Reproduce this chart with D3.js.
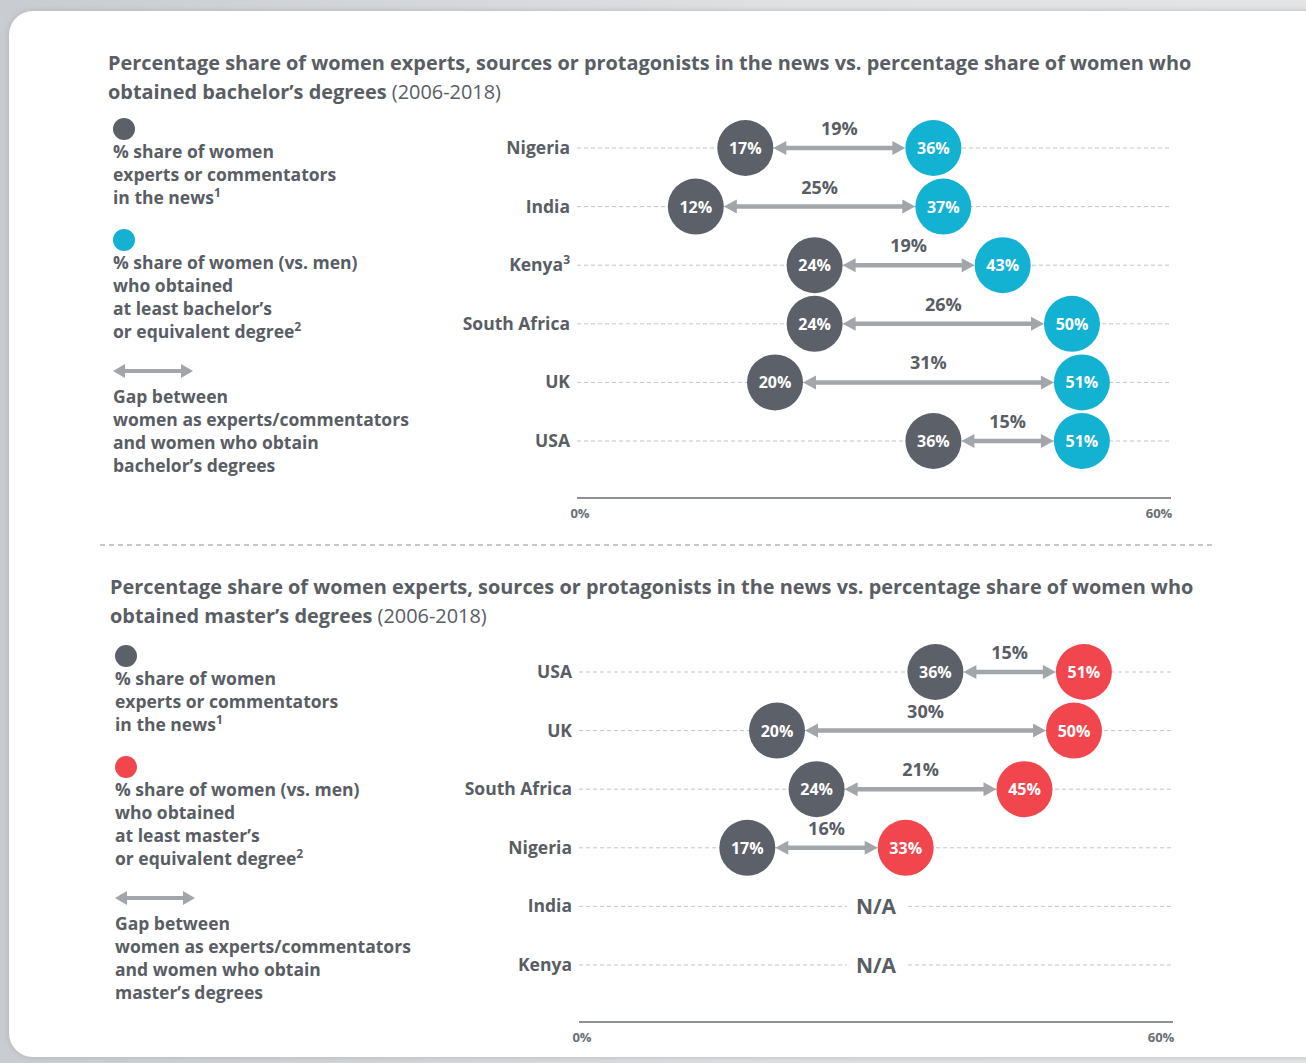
<!DOCTYPE html>
<html>
<head>
<meta charset="utf-8">
<script src="https://cdn.jsdelivr.net/npm/d3@7"></script>
<style>
  html, body { margin: 0; padding: 0; background: #dcdee0; }
  svg { display: block; }
  text { font-family: "Open Sans", "Noto Sans", sans-serif; }
</style>
</head>
<body>
<div id="chart"></div>
<script>
/* data */
var bachelorCountries = ["Nigeria", "India", "Kenya", "South Africa", "UK", "USA"];
var bachelorExperts   = [17, 12, 24, 24, 20, 36];
var bachelorDegree    = [36, 37, 43, 50, 51, 51];
var bachelorGap       = [19, 25, 19, 26, 31, 15];

var masterCountries = ["USA", "UK", "South Africa", "Nigeria", "India", "Kenya"];
var masterExperts   = [36, 20, 24, 17, null, null];
var masterDegree    = [51, 50, 45, 33, null, null];
var masterGap       = [15, 30, 21, 16, null, null];

var axisTicks = [0, 60];

var W = 1306, H = 1063;
var dark = "#5c6069", teal = "#13b2d3", red = "#f2464f";
var textGray = "#595d64", arrowGray = "#a2a5aa", dashGray = "#c3c5c8";
var r = 28;

var svg = d3.select("#chart").append("svg")
    .attr("width", W).attr("height", H);

/* page background and white card */
var defs = svg.append("defs");
var bg = defs.append("linearGradient").attr("id", "bg")
    .attr("x1", 0).attr("y1", 0).attr("x2", 1).attr("y2", 0);
bg.append("stop").attr("offset", "0%").attr("stop-color", "#c9ccd0");
bg.append("stop").attr("offset", "60%").attr("stop-color", "#dfe1e3");
bg.append("stop").attr("offset", "100%").attr("stop-color", "#e4e5e7");
var sh = defs.append("filter").attr("id", "shadow")
    .attr("x", -0.05).attr("y", -0.05).attr("width", 1.1).attr("height", 1.1);
sh.append("feDropShadow").attr("dx", 0).attr("dy", 0)
    .attr("stdDeviation", 3).attr("flood-color", "#9a9ea3").attr("flood-opacity", 0.6);

svg.append("rect").attr("width", W).attr("height", H).attr("fill", "url(#bg)");
svg.append("rect")
    .attr("x", 9).attr("y", 11).attr("width", W + 20).attr("height", 1046)
    .attr("rx", 24).attr("fill", "#fff").attr("filter", "url(#shadow)");

/* shrink a text until it fits a width */
function fitFont(sel, size, width) {
    sel.attr("font-size", size);
    var len = sel.node().getComputedTextLength();
    if (len > width) {
        size = size * width / len;
        sel.attr("font-size", size);
    }
    return size;
}

function drawArrow(g, x1, x2, y, head, hw, sw) {
    g.append("line")
        .attr("x1", x1 + head - 1).attr("x2", x2 - head + 1)
        .attr("y1", y).attr("y2", y)
        .attr("stroke", arrowGray).attr("stroke-width", sw);
    g.append("path")
        .attr("d", "M" + x1 + "," + y + "L" + (x1 + head) + "," + (y - hw) + "L" + (x1 + head) + "," + (y + hw) + "Z")
        .attr("fill", arrowGray);
    g.append("path")
        .attr("d", "M" + x2 + "," + y + "L" + (x2 - head) + "," + (y - hw) + "L" + (x2 - head) + "," + (y + hw) + "Z")
        .attr("fill", arrowGray);
}

function addLines(g, lines, x, y0, step) {
    lines.forEach(function(l, i) {
        var t = g.append("text")
            .attr("x", x).attr("y", y0 + i * step)
            .attr("font-size", 17.5).attr("font-weight", 700)
            .attr("fill", textGray);
        t.append("tspan").text(l[0]);
        if (l[1]) {
            t.append("tspan").attr("font-size", 12).attr("dy", -7).text(l[1]);
        }
    });
}

function drawPanel(opt) {
    var g = svg.append("g").attr("transform", "translate(" + opt.dx + "," + opt.dy + ")");

    /* title */
    var t1 = g.append("text").attr("x", 108).attr("y", 70)
        .attr("font-weight", 700).attr("fill", textGray)
        .text("Percentage share of women experts, sources or protagonists in the news vs. percentage share of women who");
    var fs = fitFont(t1, 21, 1084);
    var t2 = g.append("text").attr("x", 108).attr("y", 99)
        .attr("font-size", fs).attr("fill", textGray);
    t2.append("tspan").attr("font-weight", 700).text(opt.titleBold);
    t2.append("tspan").attr("font-weight", 400).text(" (2006-2018)");

    /* legend */
    var lg = g.append("g").attr("transform", "translate(0," + opt.legendDy + ")");
    lg.append("circle").attr("cx", 124).attr("cy", 129).attr("r", 11).attr("fill", dark);
    addLines(lg, [["% share of women"], ["experts or commentators"], ["in the news", "1"]], 113, 158, 23);
    lg.append("circle").attr("cx", 124).attr("cy", 240).attr("r", 11).attr("fill", opt.color);
    addLines(lg, [["% share of women (vs. men)"], ["who obtained"], ["at least " + opt.degree], ["or equivalent degree", "2"]], 113, 269, 23);
    drawArrow(lg, 113, 193, 371, 12, 7, 4);
    addLines(lg, [["Gap between"], ["women as experts/commentators"], ["and women who obtain"], [opt.degree + " degrees"]], 113, 403, 23);

    /* scales */
    var x = d3.scaleLinear().domain([0, 60]).range([577, 1171]);
    var y = d3.scalePoint().domain(opt.countries).range([148, 441]);

    /* country rows */
    var rows = g.selectAll(".row").data(opt.countries).enter().append("g").attr("class", "row");
    rows.append("line")
        .attr("x1", x(0)).attr("x2", x(60) - 1)
        .attr("y1", function(d) { return y(d); }).attr("y2", function(d) { return y(d); })
        .attr("stroke", dashGray).attr("stroke-width", 1).attr("stroke-dasharray", "4,3");
    var lab = rows.append("text")
        .attr("x", x(0) - 7).attr("y", function(d) { return y(d) + 6; })
        .attr("text-anchor", "end").attr("font-size", 17.5).attr("font-weight", 700)
        .attr("fill", textGray);
    lab.append("tspan").text(function(d) { return d; });
    lab.filter(function(d) { return d === "Kenya" && opt.kenyaNote; })
        .append("tspan").attr("font-size", 12).attr("dy", -7).text("3");

    opt.countries.forEach(function(c, i) {
        var cy = y(c);
        var a = opt.experts[i], b = opt.degreeVals[i];
        if (a === null) {
            var na = g.append("text").attr("x", x(30)).attr("y", cy + 8)
                .attr("text-anchor", "middle").attr("font-size", 21).attr("font-weight", 700)
                .attr("fill", textGray).text("N/A");
            var bb = na.node().getBBox();
            g.append("rect")
                .attr("x", bb.x - 9).attr("y", cy - 3).attr("width", bb.width + 18).attr("height", 6)
                .attr("fill", "#fff");
            na.raise();
            return;
        }
        drawArrow(g, x(a) + r, x(b) - r, cy, 13, 7, 4.5);
        g.append("text").attr("x", (x(a) + x(b)) / 2).attr("y", cy - 13)
            .attr("text-anchor", "middle").attr("font-size", 18).attr("font-weight", 700)
            .attr("fill", textGray).text(opt.gap[i] + "%");
        [[a, dark], [b, opt.color]].forEach(function(p) {
            g.append("circle").attr("cx", x(p[0])).attr("cy", cy).attr("r", r).attr("fill", p[1]);
            g.append("text").attr("x", x(p[0])).attr("y", cy + 6)
                .attr("text-anchor", "middle").attr("font-size", 16).attr("font-weight", 700)
                .attr("fill", "#fff").text(p[0] + "%");
        });
    });

    /* x axis */
    g.append("line").attr("x1", x(0)).attr("x2", x(60)).attr("y1", 498).attr("y2", 498)
        .attr("stroke", "#8d9095").attr("stroke-width", 2);
    g.selectAll(".tick").data(axisTicks).enter().append("text")
        .attr("x", function(d) { return x(d) + (d === 0 ? 3 : -12); })
        .attr("y", 518).attr("text-anchor", "middle")
        .attr("font-size", 13).attr("font-weight", 700).attr("fill", "#6a6e74")
        .text(function(d) { return d + "%"; });
}

drawPanel({
    dx: 0, dy: 0, legendDy: 0,
    titleBold: "obtained bachelor\u2019s degrees",
    degree: "bachelor\u2019s",
    color: teal,
    countries: bachelorCountries,
    experts: bachelorExperts,
    degreeVals: bachelorDegree,
    gap: bachelorGap,
    kenyaNote: true
});

/* dashed separator */
svg.append("line").attr("x1", 100).attr("x2", 1216).attr("y1", 545).attr("y2", 545)
    .attr("stroke", "#8e9196").attr("stroke-width", 1.2).attr("stroke-dasharray", "5,4");

drawPanel({
    dx: 2, dy: 524, legendDy: 3,
    titleBold: "obtained master\u2019s degrees",
    degree: "master\u2019s",
    color: red,
    countries: masterCountries,
    experts: masterExperts,
    degreeVals: masterDegree,
    gap: masterGap,
    kenyaNote: false
});
</script>
</body>
</html>
